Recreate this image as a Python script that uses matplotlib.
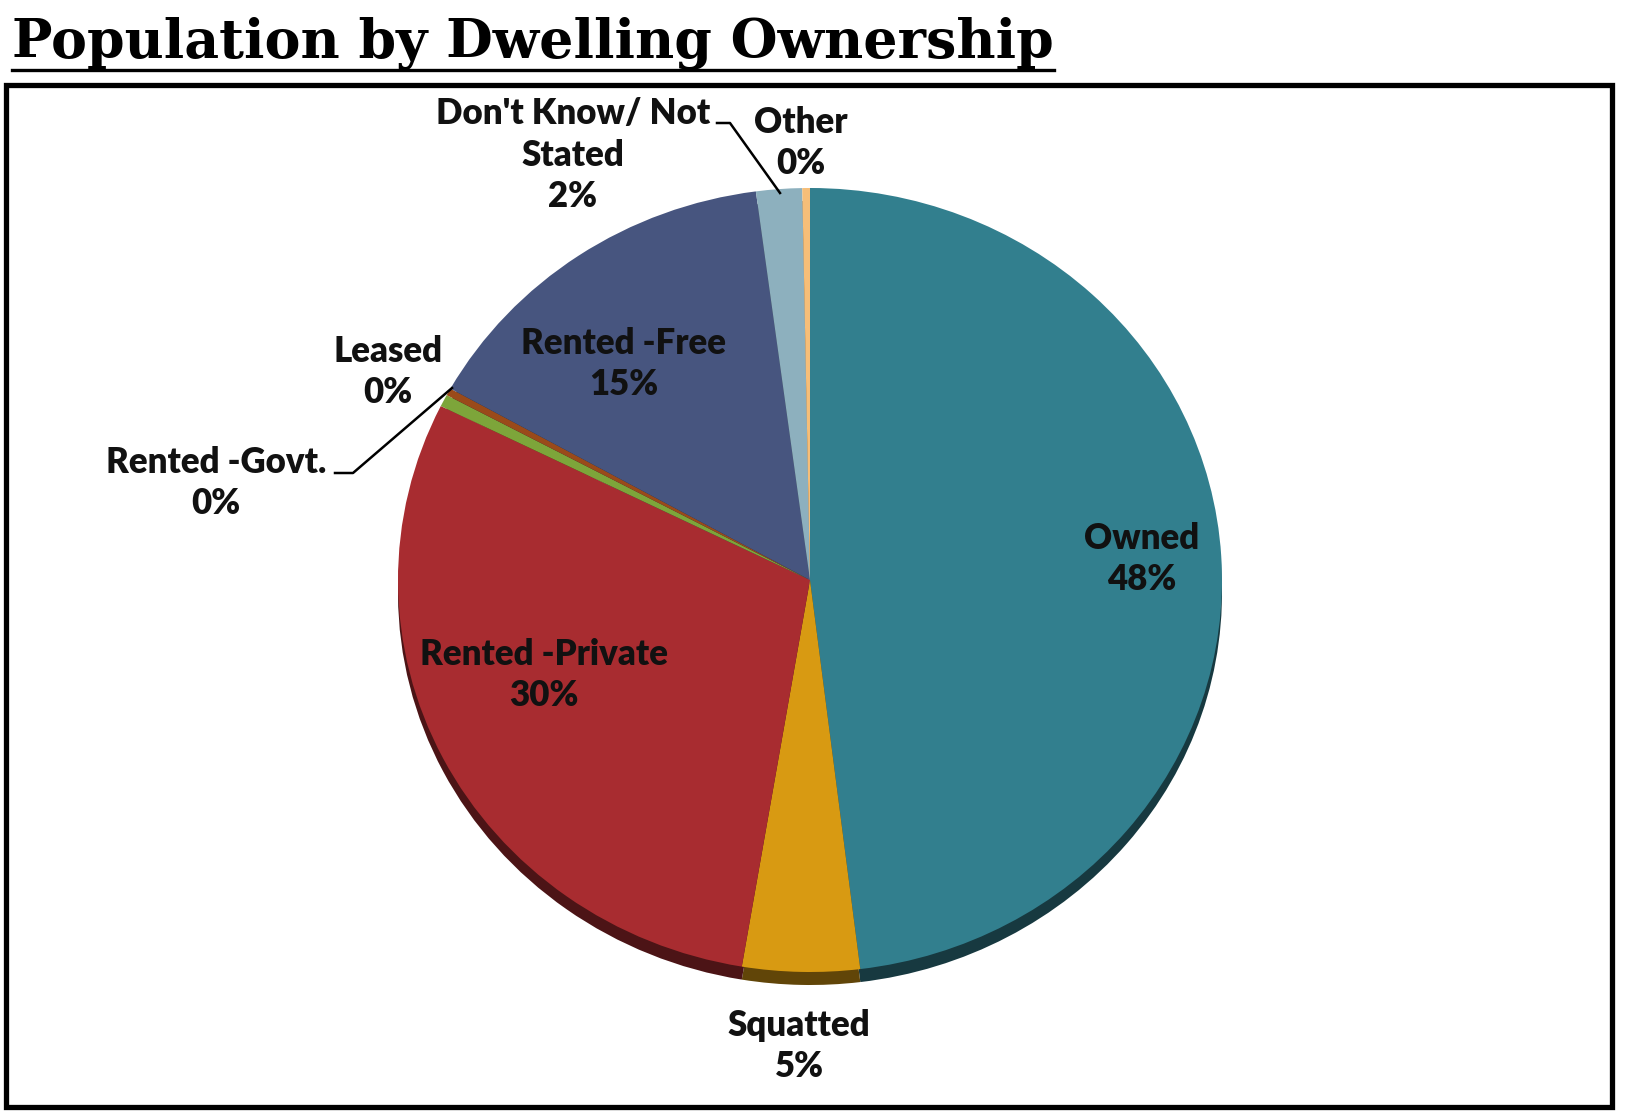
import matplotlib
matplotlib.use("Agg")
import matplotlib.pyplot as plt
import matplotlib.colors as mcolors
from matplotlib.transforms import Affine2D
from matplotlib.patches import Rectangle

title = "Population by Dwelling Ownership"
categories = ["Owned", "Squatted", "Rented -Private", "Rented -Govt.", "Leased",
              "Rented -Free", "Don't Know/ Not\nStated", "Other"]
shares = [48.1, 4.6, 29.7, 0.5, 0.3, 14.8, 1.8, 0.3]
colors = ["#327F8E", "#D89A12", "#A82C30", "#7DA53A", "#9A4A1A",
          "#47557F", "#8DB0BE", "#F6BE78"]

# label centres in pixel coords (x right, y down)
label_pos = [(1142, 559), (799, 1046), (544, 675), (216, 483), (388, 372),
             (624, 364), (573, 155), (801, 143)]
leaders = {3: [(335, 473), (353, 473), (452, 388)],
           6: [(717, 123), (730, 123), (780, 193)]}

W, H = 1631, 1116
cx, cy, rx, ry, depth = 810, 580, 412, 392, 13

fig = plt.figure(figsize=(W / 100, H / 100), dpi=100)
ax = fig.add_axes([0, 0, 1, 1])

# darker rim underneath for the 3d look
rim_colors = [mcolors.to_rgb(c) for c in colors]
rim_colors = [(r * 0.45, g * 0.45, b * 0.45) for r, g, b in rim_colors]
rim, _ = ax.pie(shares, colors=rim_colors, startangle=90, counterclock=False,
                wedgeprops=dict(linewidth=0))
for w in rim:
    w.set_transform(Affine2D().scale(rx, -ry).translate(cx, cy + depth) + ax.transData)

wedges, _ = ax.pie(shares, colors=colors, startangle=90, counterclock=False,
                   wedgeprops=dict(linewidth=0))
for w in wedges:
    w.set_transform(Affine2D().scale(rx, -ry).translate(cx, cy) + ax.transData)

ax.set_aspect("auto")
ax.set_xlim(0, W)
ax.set_ylim(H, 0)
ax.axis("off")

for i, (name, val) in enumerate(zip(categories, shares)):
    x, y = label_pos[i]
    ax.text(x, y, f"{name}\n{val:.0f}%", ha="center", va="center",
            fontfamily="Lato", fontweight="heavy", fontsize=25,
            linespacing=1.3, color="#111111")
for pts in leaders.values():
    xs, ys = zip(*pts)
    ax.plot(xs, ys, color="black", lw=1.8)

# frame around the chart
ax.add_patch(Rectangle((6, 85), 1606, 1022, fill=False, ec="black", lw=3.8))

# underlined title
t = ax.text(12, 58, title, fontfamily="DejaVu Serif", fontweight="bold",
            fontsize=33, va="baseline", ha="left")
fig.canvas.draw()
bb = t.get_window_extent()
t.set_fontsize(33 * 1044 / bb.width)
fig.canvas.draw()
bb = t.get_window_extent()
ax.plot([bb.x0, bb.x1], [70, 70], color="black", lw=2.4)

fig.savefig("out.png", dpi=100)
